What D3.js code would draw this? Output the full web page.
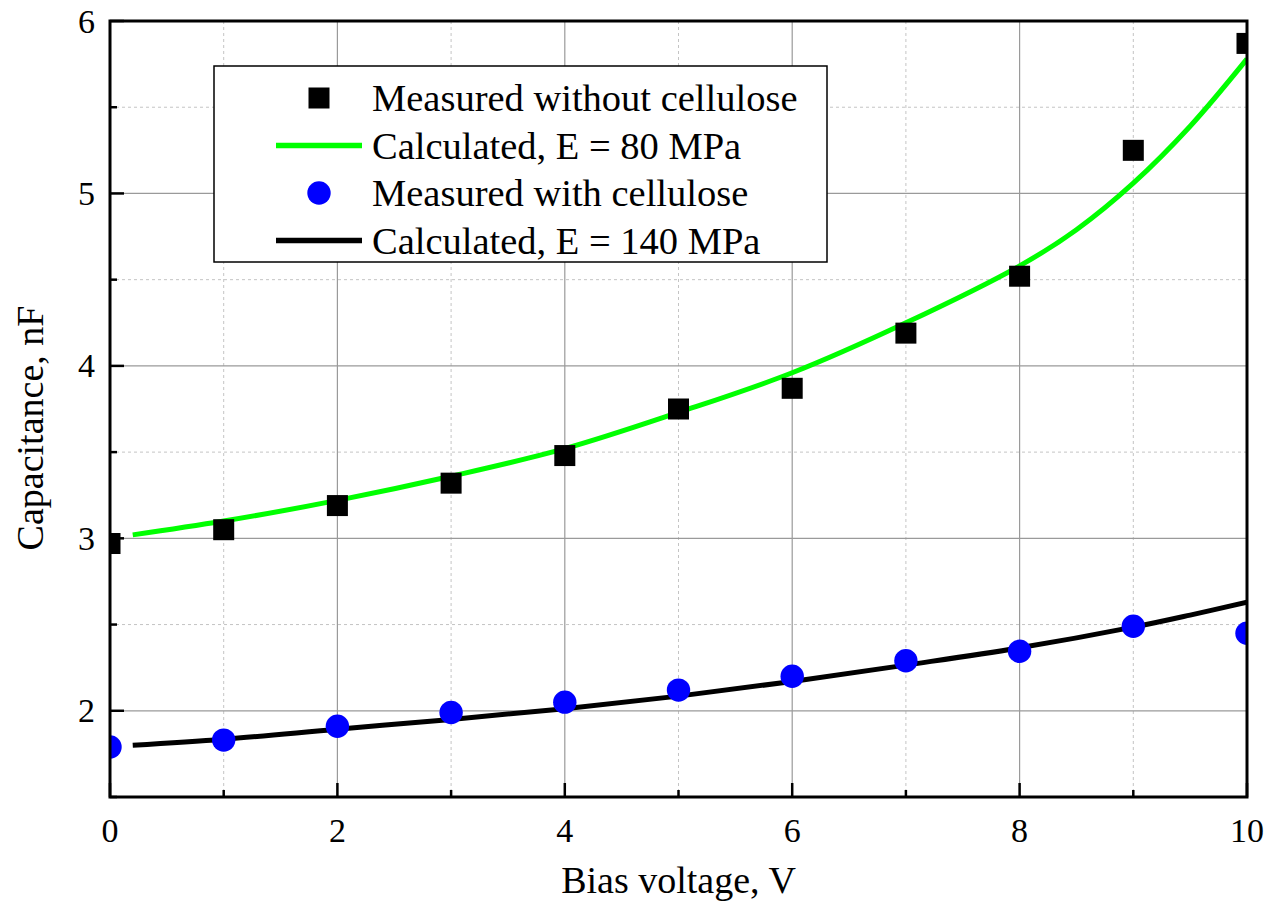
<!DOCTYPE html>
<html><head><meta charset="utf-8">
<script src="https://cdn.jsdelivr.net/npm/d3@7"></script>
<style>body{margin:0;background:#fff}svg{display:block}text{font-family:"Liberation Serif","Times New Roman",serif;fill:#000}</style>
</head><body><svg id="c" width="1270" height="901"></svg>
<script>
const voltage = [0,1,2,3,4,5,6,7,8,9,10];
const measuredWithout = [2.97,3.05,3.19,3.32,3.48,3.75,3.87,4.19,4.52,5.25,5.87];
const measuredWith = [1.79,1.83,1.91,1.99,2.05,2.12,2.20,2.29,2.345,2.49,2.45];
const calcVoltage = [0.2,1,2,3,4,5,6,7,8,8.5,9,9.5,10];
const calc80 = [3.02,3.10,3.22,3.36,3.52,3.73,3.96,4.25,4.58,4.79,5.06,5.39,5.78];
const calcVoltage140 = [0.2,1,2,3,4,5,6,7,8,9,9.5,10];
const calc140 = [1.80,1.835,1.893,1.95,2.012,2.085,2.17,2.265,2.365,2.485,2.555,2.63];
const xMajor = [0,2,4,6,8,10], xMinor = [1,3,5,7,9];
const yMajor = [2,3,4,5,6], yMinor = [1.5,2.5,3.5,4.5,5.5];
const legendLabels = ["Measured without cellulose","Calculated, E = 80 MPa","Measured with cellulose","Calculated, E = 140 MPa"];

const svg = d3.select("#c");
const L=110, R=1247, T=21, B=797;
const x = d3.scaleLinear().domain([0,10]).range([L,R]);
const y = d3.scaleLinear().domain([1.5,6]).range([B,T]);

// grid
const g = svg.append("g");
g.selectAll(".gxm").data(xMinor).join("line").attr("x1",d=>x(d)).attr("x2",d=>x(d)).attr("y1",T).attr("y2",B)
 .attr("stroke","#c4c4c4").attr("stroke-width",1).attr("stroke-dasharray","3,3");
g.selectAll(".gym").data(yMinor.filter(d=>d>1.5)).join("line").attr("x1",L).attr("x2",R).attr("y1",d=>y(d)).attr("y2",d=>y(d))
 .attr("stroke","#c4c4c4").attr("stroke-width",1).attr("stroke-dasharray","3,3");
g.selectAll(".gxM").data(xMajor.filter(d=>d>0&&d<10)).join("line").attr("x1",d=>x(d)).attr("x2",d=>x(d)).attr("y1",T).attr("y2",B)
 .attr("stroke","#9a9a9a").attr("stroke-width",1.2);
g.selectAll(".gyM").data(yMajor.filter(d=>d<6)).join("line").attr("x1",L).attr("x2",R).attr("y1",d=>y(d)).attr("y2",d=>y(d))
 .attr("stroke","#9a9a9a").attr("stroke-width",1.2);

// clip
svg.append("defs").append("clipPath").attr("id","clip").append("rect").attr("x",L).attr("y",T).attr("width",R-L).attr("height",B-T);
const plot = svg.append("g").attr("clip-path","url(#clip)");

const line = d3.line().x(d=>x(d[0])).y(d=>y(d[1])).curve(d3.curveCatmullRom.alpha(0.5));
plot.append("path").datum(calcVoltage.map((v,i)=>[v,calc80[i]])).attr("d",line).attr("fill","none").attr("stroke","#00ff00").attr("stroke-width",5);
plot.append("path").datum(calcVoltage140.map((v,i)=>[v,calc140[i]])).attr("d",line).attr("fill","none").attr("stroke","#000").attr("stroke-width",5);

const sq=21;
plot.selectAll(".sq").data(voltage.map((v,i)=>[v,measuredWithout[i]])).join("rect")
 .attr("x",d=>x(d[0])-sq/2).attr("y",d=>y(d[1])-sq/2).attr("width",sq).attr("height",sq).attr("fill","#000");
plot.selectAll(".ci").data(voltage.map((v,i)=>[v,measuredWith[i]])).join("circle")
 .attr("cx",d=>x(d[0])).attr("cy",d=>y(d[1])).attr("r",11.7).attr("fill","#0000ff");

// legend
const lg = svg.append("g");
lg.append("rect").attr("x",214).attr("y",66).attr("width",613).attr("height",196).attr("fill","#fff").attr("stroke","#000").attr("stroke-width",1.5);
const rows=[98,145.5,193,240.5];
lg.append("rect").attr("x",319-sq/2).attr("y",rows[0]-sq/2).attr("width",sq).attr("height",sq).attr("fill","#000");
lg.append("line").attr("x1",276).attr("x2",362).attr("y1",rows[1]).attr("y2",rows[1]).attr("stroke","#00ff00").attr("stroke-width",5.5);
lg.append("circle").attr("cx",319).attr("cy",rows[2]).attr("r",11.7).attr("fill","#0000ff");
lg.append("line").attr("x1",276).attr("x2",362).attr("y1",rows[3]).attr("y2",rows[3]).attr("stroke","#000").attr("stroke-width",5.5);
lg.selectAll(".lt").data(legendLabels).join("text").attr("x",372).attr("y",(d,i)=>rows[i]+13).attr("font-size",38.5).text(d=>d);

// frame
svg.append("rect").attr("x",L).attr("y",T).attr("width",R-L).attr("height",B-T).attr("fill","none").attr("stroke","#000").attr("stroke-width",3);

// ticks
const ax = svg.append("g").attr("stroke","#000").attr("stroke-width",2.5);
ax.selectAll(".txM").data(xMajor).join("line").attr("x1",d=>x(d)).attr("x2",d=>x(d)).attr("y1",B).attr("y2",B-14);
ax.selectAll(".txm").data(xMinor).join("line").attr("x1",d=>x(d)).attr("x2",d=>x(d)).attr("y1",B).attr("y2",B-7);
ax.selectAll(".tyM").data(yMajor).join("line").attr("x1",L).attr("x2",L+14).attr("y1",d=>y(d)).attr("y2",d=>y(d));
ax.selectAll(".tym").data(yMinor).join("line").attr("x1",L).attr("x2",L+7).attr("y1",d=>y(d)).attr("y2",d=>y(d));

// tick labels
svg.selectAll(".xl").data(xMajor).join("text").attr("x",d=>x(d)).attr("y",842).attr("text-anchor","middle").attr("font-size",34).text(d=>d);
svg.selectAll(".yl").data(yMajor).join("text").attr("x",95).attr("y",d=>y(d)+11.5).attr("text-anchor","end").attr("font-size",34).text(d=>d);

// titles
svg.append("text").attr("x",(L+R)/2).attr("y",893).attr("text-anchor","middle").attr("font-size",38).text("Bias voltage, V");
svg.append("text").attr("transform",`translate(43,428) rotate(-90)`).attr("text-anchor","middle").attr("font-size",38).text("Capacitance, nF");
</script></body></html>
